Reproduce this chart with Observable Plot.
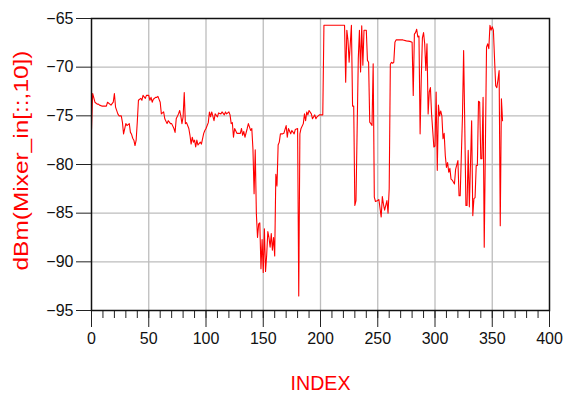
<!DOCTYPE html>
<html>
<head>
<meta charset="utf-8">
<script src="https://cdn.jsdelivr.net/npm/d3@7"></script>
<script src="https://cdn.jsdelivr.net/npm/@observablehq/plot@0.6"></script>
<style>
  html, body { margin: 0; padding: 0; background: #fff; }
  svg { display: block; }
</style>
</head>
<body>
<div id="chart"></div>
<script>
const idx = [0,1,3,5,6,7,9,11,13,14,16,17,19,20,21,23,24,26,27,28,30,31,33,34,35,36,37,38,39,40,
  41,43,44,45,47,48,50,51,52,53,54,56,57,58,60,61,63,64,66,67,69,70,72,73,74,76,77,78,79,80,
  81,82,83,85,86,87,88,89,90,91,92,93,95,96,98,99,100,102,103,104,105,107,108,110,111,113,114,116,117,118,
  120,121,122,123,124,125,127,128,130,131,132,133,134,136,137,139,140,141,142,143,144,145,146,147,148,149,150,151,152,153,
  154,155,156,157,158,159,160,161,162,163,164,165,167,168,170,171,172,174,175,177,178,180,181,182,183,185,186,187,188,189,
  190,192,193,195,196,197,199,201,202,203,221,222,223,224,225,227,228,229,230,231,233,234,235,236,237,238,240,241,242,243,
  244,245,246,247,248,250,251,253,254,255,256,258,259,260,261,262,263,264,265,266,269,272,275,278,280,281,282,283,284,285,
  286,287,288,289,290,291,292,293,294,295,296,297,298,299,300,301,302,303,304,305,306,307,308,309,310,311,312,313,314,315,
  317,318,320,321,322,324,325,326,327,328,329,330,332,333,334,335,336,337,338,339,340,341,342,343,345,346,347,348,349,350,
  351,352,353,354,355,356,357,358,359];
const dbm = [-76.4,-72.7,-73.6,-73.8,-73.8,-73.9,-74.0,-74.0,-74.0,-73.6,-73.8,-73.9,-73.6,-72.7,-74.1,-74.8,-75.0,-75.0,-75.65,-76.85,-75.8,-76.0,-75.8,-76.7,-76.9,-77.3,-77.5,-78.05,-77.5,-75.6,
  -73.4,-73.2,-73.4,-72.9,-73.2,-72.9,-72.9,-73.4,-73.1,-73.6,-73.3,-73.1,-73.1,-73.0,-73.6,-74.8,-74.6,-75.3,-75.8,-75.5,-75.8,-75.8,-76.3,-76.7,-75.3,-74.8,-74.45,-75.0,-75.8,-75.1,
  -72.6,-75.8,-75.7,-76.3,-77.0,-77.9,-77.2,-77.7,-77.5,-78.2,-77.5,-78.0,-77.7,-77.9,-76.8,-76.5,-76.3,-75.7,-74.6,-75.1,-74.6,-75.5,-74.8,-75.1,-74.7,-74.8,-74.6,-74.9,-74.6,-74.8,
  -74.6,-74.9,-75.8,-75.7,-77.2,-76.3,-76.8,-76.8,-76.8,-76.3,-77.0,-76.6,-77.2,-76.3,-75.8,-76.5,-76.3,-78.4,-83.0,-78.5,-85.1,-87.5,-86.1,-86.0,-90.7,-87.7,-91.1,-86.6,-91.0,-89.3,
  -86.9,-87.5,-88.5,-87.1,-88.8,-87.5,-89.4,-81.0,-82.2,-78.0,-77.7,-76.85,-76.85,-76.8,-76.0,-77.2,-76.3,-76.85,-76.5,-76.85,-76.4,-76.3,-93.5,-76.85,-76.3,-75.8,-74.8,-75.5,-74.6,-74.9,
  -74.45,-74.8,-75.3,-74.9,-75.3,-75.1,-74.9,-74.9,-74.9,-65.7,-65.7,-71.55,-66.2,-67.25,-69.5,-65.7,-74.0,-74.0,-84.2,-83.7,-69.15,-66.2,-70.5,-65.75,-69.8,-66.2,-66.2,-69.3,-69.5,-75.65,
  -75.8,-76.0,-69.65,-83.35,-83.8,-83.7,-83.6,-85.4,-83.3,-84.1,-84.7,-83.7,-85.0,-82.5,-69.7,-69.5,-69.6,-69.5,-67.45,-67.2,-67.2,-67.2,-67.3,-67.35,-67.45,-72.9,-66.6,-66.45,-66.1,-66.9,
  -66.8,-76.85,-71.2,-67.0,-66.45,-67.6,-70.35,-67.6,-74.8,-72.55,-72.1,-74.8,-76.5,-78.2,-78.1,-72.55,-80.6,-73.9,-75.0,-74.5,-75.0,-77.35,-76.8,-79.1,-80.3,-79.8,-80.8,-80.4,-81.5,-81.6,
  -82.0,-80.5,-79.6,-83.2,-83.2,-75.0,-68.3,-76.0,-84.2,-84.2,-78.55,-84.35,-75.5,-85.25,-83.5,-83.4,-80.1,-80.1,-73.5,-73.6,-79.4,-79.4,-73.1,-88.5,-67.95,-67.6,-68.1,-65.7,-66.2,-65.85,
  -66.2,-69.15,-71.9,-72.1,-71.3,-70.35,-86.3,-73.25,-75.5];

const xMajor = [0,50,100,150,200,250,300,350,400];
const xMinor = d3.range(0, 401, 10);
const yTicks = [-95,-90,-85,-80,-75,-70,-65];
const xLabel = "INDEX";
const yLabel = "dBm(Mixer_in[::,10])";

const data = idx.map((x, i) => ({x, y: dbm[i]}));
const font = "'Liberation Sans', Arial, sans-serif";

const chart = Plot.plot({
  width: 563,
  height: 394,
  marginLeft: 91,
  marginRight: 14,
  marginTop: 18,
  marginBottom: 84,
  style: {fontFamily: font, background: "#fff", color: "black"},
  x: {domain: [0, 400]},
  y: {domain: [-95, -65]},
  marks: [
    Plot.gridX(xMajor.slice(1, -1), {stroke: "#bdbdbd", strokeOpacity: 1, strokeWidth: 1.3}),
    Plot.gridY(yTicks.slice(1, -1), {stroke: "#bdbdbd", strokeOpacity: 1, strokeWidth: 1.3}),
    Plot.axisX({ticks: xMinor, tickSize: 8, tickFormat: () => "", label: null, stroke: "#222"}),
    Plot.axisX({ticks: xMajor, tickSize: 17, tickPadding: 5, fontSize: 16, label: null, stroke: "#222", fill: "#111"}),
    Plot.axisY({ticks: yTicks, tickSize: 15, tickPadding: 3, fontSize: 16, label: null, stroke: "#222", fill: "#111"}),
    Plot.line(data, {x: "x", y: "y", stroke: "red", strokeWidth: 1.1}),
    Plot.frame({stroke: "#111", strokeWidth: 1.5}),
    Plot.text([xLabel], {frameAnchor: "bottom", dy: 73, fill: "red", fontSize: 21, textAnchor: "middle", lineAnchor: "middle"}),
    Plot.text([yLabel], {frameAnchor: "left", dx: -70, dy: -4, rotate: -90, fill: "red", fontSize: 21, textAnchor: "middle", lineAnchor: "middle"})
  ]
});
document.getElementById("chart").appendChild(chart);

// stretch the axis titles to the reference widths
d3.select(chart).selectAll("text").each(function() {
  if (this.textContent === xLabel) { this.setAttribute("textLength", 60); this.setAttribute("lengthAdjust", "spacingAndGlyphs"); }
  if (this.textContent === yLabel) { this.setAttribute("textLength", 220); this.setAttribute("lengthAdjust", "spacingAndGlyphs"); }
});
</script>
</body>
</html>
